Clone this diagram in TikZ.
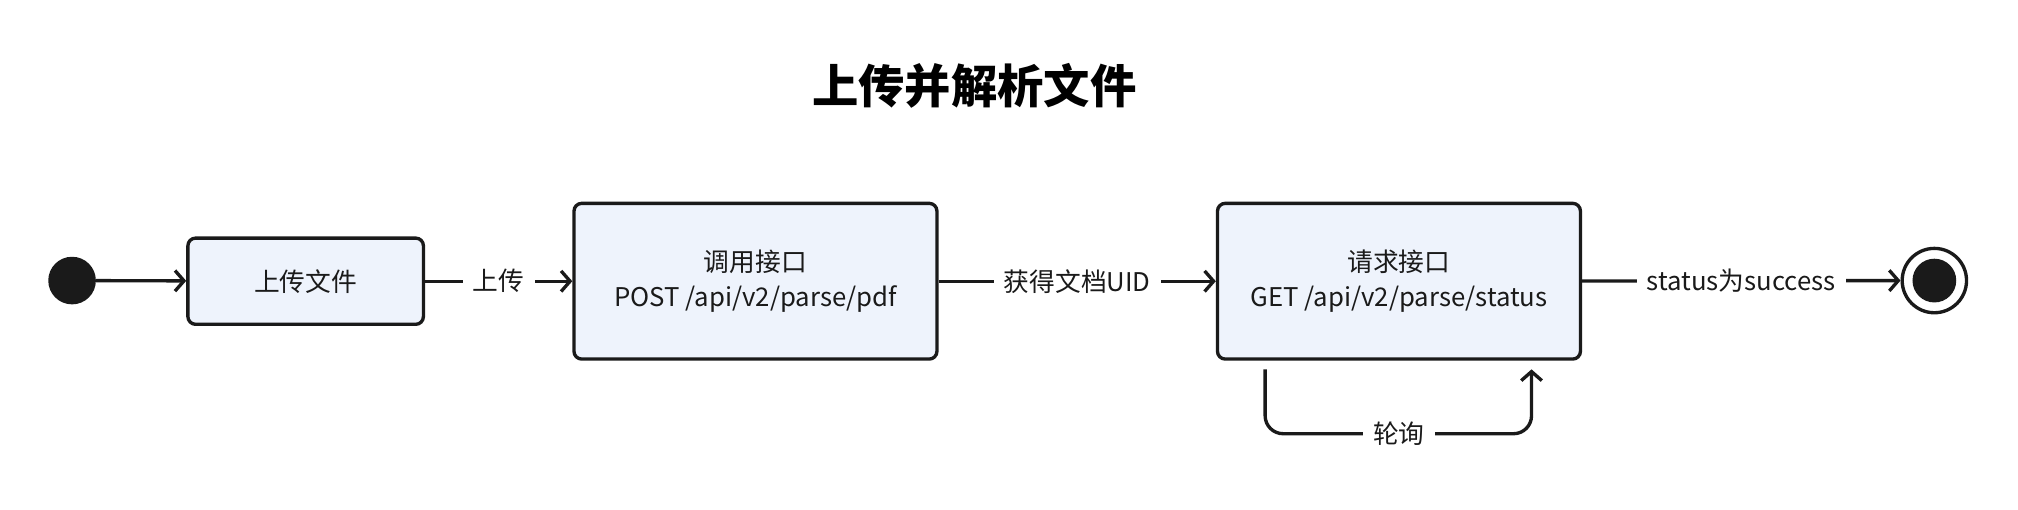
\documentclass[tikz,border=0pt]{standalone}
\usepackage{fontspec}
\setmainfont{Noto Sans CJK SC}
\usetikzlibrary{positioning,arrows.meta}
\definecolor{boxfill}{HTML}{EEF3FC}
\definecolor{ink}{HTML}{1A1A1A}
\tikzstyle{state} = [draw=ink, line width=2.6pt, rounded corners=6pt, fill=boxfill, align=center, font=\fontsize{20}{27}\selectfont, text=ink]
\begin{document}
\begin{tikzpicture}[x=1pt,y=-1pt,
      flow/.style={draw=ink, line width=2.6pt, -{Straight Barb[length=7pt,width=16pt]}},
      lbl/.style={fill=white, font=\fontsize{20}{24}\selectfont, text=ink, inner xsep=8pt}]
    \useasboundingbox (0,0) rectangle (1568,396);
    \node (title) at (757,67) {\fontsize{36}{40}\selectfont\bfseries 上传并解析文件};
    \node (start) [circle, fill=ink, minimum size=37pt, inner sep=0pt] at (56,218) {};
    \node (upload) [state, minimum width=183pt, minimum height=67pt] at (237.5,218.5) {上传文件};
    \node (parse) [state, minimum width=282pt, minimum height=121pt] at (587,218.5) {调用接口\\POST /api/v2/parse/pdf};
    \node (status) [state, minimum width=282pt, minimum height=121pt] at (1087,218.5) {请求接口\\GET /api/v2/parse/status};
    \node (stop) [circle, draw=ink, line width=2.6pt, minimum size=50pt, inner sep=0pt] at (1503,218) {};
    \node [circle, fill=ink, minimum size=34pt, inner sep=0pt] at (stop) {};
    \coordinate (loopa) at (983,287);
    \coordinate (loopb) at (1190,287);

    \draw[flow] (start) -- (upload);
    \draw[flow] (upload) -- (parse) node [midway, lbl] {上传};
    \draw[flow] (parse) -- (status) node [midway, lbl] {获得文档UID};
    \draw[flow] (status) -- (stop) node [midway, lbl] {status为success};
    \draw[flow, rounded corners=14pt] (loopa) -- (983,337) -- (1190,337) -- (loopb);
    \node [lbl] at (1087,337) {轮询};
\end{tikzpicture}
\end{document}
